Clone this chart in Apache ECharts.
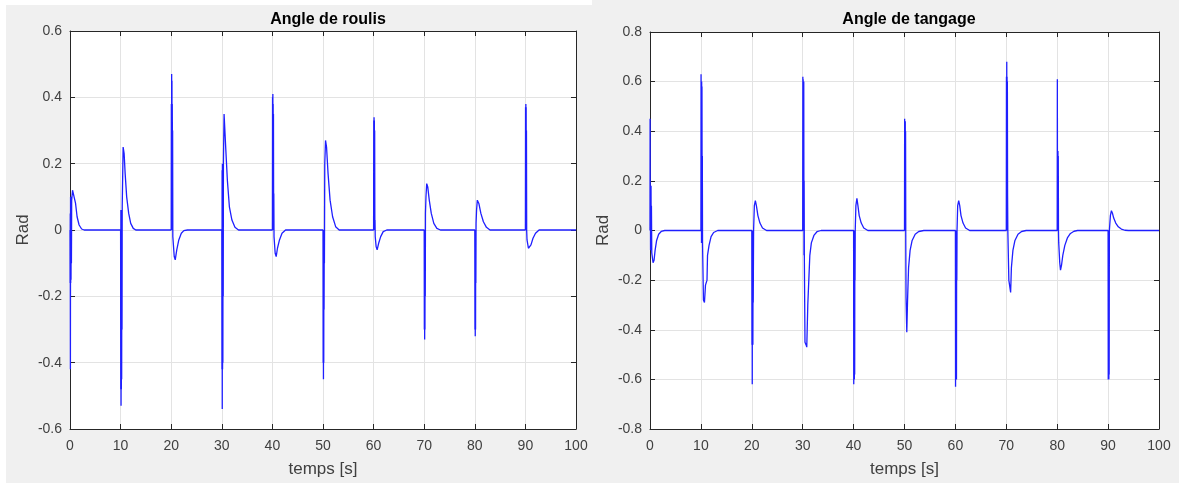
<!DOCTYPE html>
<html>
<head>
<meta charset="utf-8">
<script src="https://cdn.jsdelivr.net/npm/echarts@6/dist/echarts.min.js"></script>
<style>
html,body{margin:0;padding:0;background:#f0f0f0;}
#c{width:1179px;height:483px;}
</style>
</head>
<body>
<div id="c"></div>
<script>
// ---- Data ----
const titles = ["Angle de roulis", "Angle de tangage"];
const xName = "temps [s]";
const yName = "Rad";
const xTicks = [0, 10, 20, 30, 40, 50, 60, 70, 80, 90, 100];
const rollYTicks = [-0.6, -0.4, -0.2, 0, 0.2, 0.4, 0.6];
const pitchYTicks = [-0.8, -0.6, -0.4, -0.2, 0, 0.2, 0.4, 0.6, 0.8];

// roll angle [t, rad]
const rollData = [
[0,0],[0.02,-0.16],[0.05,0.05],[0.08,-0.42],[0.11,0.1],[0.14,-0.16],[0.17,0.1],[0.2,-0.15],[0.24,0.09],[0.28,-0.1],[0.33,0.09],[0.5,0.12],[0.8,0.12],[1.1,0.08],[1.4,0.04],[1.8,0.015],[2.3,0.003],[2.8,0],
[10,0],[10.03,-0.48],[10.06,0.06],[10.09,-0.53],[10.12,0.06],[10.15,-0.48],[10.18,0.06],[10.21,-0.45],[10.25,0.06],[10.28,-0.3],[10.32,0.07],[10.5,0.25],[10.7,0.23],[10.9,0.17],[11.2,0.1],[11.6,0.05],[12,0.02],[12.5,0.005],[13.0,0],
[20,0],[20.03,0.38],[20.06,0.0],[20.09,0.47],[20.12,0.0],[20.15,0.45],[20.18,0.0],[20.21,0.38],[20.25,0.2],[20.28,0.3],[20.32,-0.02],[20.6,-0.08],[20.8,-0.09],[21.1,-0.06],[21.5,-0.03],[22,-0.01],[22.5,-0.002],[23.2,0],
[30,0],[30.03,-0.42],[30.06,0.18],[30.09,-0.54],[30.12,0.2],[30.15,-0.42],[30.18,0.2],[30.21,-0.4],[30.25,0.2],[30.28,-0.2],[30.32,0.2],[30.45,0.35],[30.65,0.35],[30.8,0.24],[31.1,0.15],[31.5,0.07],[32,0.03],[32.6,0.008],[33.3,0],
[40,0],[40.03,0.4],[40.06,0.0],[40.09,0.41],[40.12,0.0],[40.15,0.38],[40.18,0.0],[40.21,0.35],[40.25,0.0],[40.28,0.11],[40.32,-0.02],[40.55,-0.07],[40.75,-0.08],[41,-0.055],[41.4,-0.03],[41.9,-0.01],[42.6,0],
[50,0],[50.03,-0.4],[50.06,0.0],[50.09,-0.45],[50.12,0.0],[50.15,-0.4],[50.18,0.0],[50.21,-0.24],[50.25,0.0],[50.28,-0.1],[50.35,0.2],[50.5,0.27],[50.7,0.25],[51,0.17],[51.4,0.09],[51.9,0.04],[52.5,0.01],[53.2,0],
[60,0],[60.03,0.33],[60.06,0.0],[60.09,0.34],[60.12,0.0],[60.15,0.33],[60.18,0.0],[60.21,0.3],[60.25,0.0],[60.28,0.03],[60.32,-0.02],[60.5,-0.05],[60.7,-0.06],[61,-0.04],[61.4,-0.02],[61.9,-0.005],[62.6,0],
[70,0],[70.03,-0.3],[70.06,0.0],[70.09,-0.33],[70.12,0.0],[70.15,-0.3],[70.18,0.0],[70.21,-0.2],[70.25,0.05],[70.35,0.1],[70.5,0.14],[70.7,0.13],[71,0.09],[71.4,0.05],[71.9,0.02],[72.5,0.005],[73.2,0],
[80,0],[80.03,-0.3],[80.06,0.0],[80.09,-0.32],[80.12,0.0],[80.15,-0.3],[80.18,0.0],[80.21,-0.16],[80.25,0.02],[80.35,0.06],[80.5,0.09],[80.8,0.08],[81.2,0.05],[81.7,0.025],[82.3,0.008],[83,0],
[90,0],[90.03,0.37],[90.06,0.0],[90.09,0.38],[90.12,0.0],[90.15,0.37],[90.18,0.0],[90.21,0.3],[90.25,0.0],[90.32,-0.03],[90.6,-0.055],[90.8,-0.06],[91.1,-0.045],[91.5,-0.025],[92,-0.01],[92.7,0],
[100,0]
];

// pitch angle [t, rad]
const pitchData = [
[0,0],[0.02,0.45],[0.05,0.0],[0.08,0.18],[0.11,-0.08],[0.14,0.18],[0.17,-0.08],[0.2,0.18],[0.24,-0.08],[0.28,0.1],[0.35,-0.09],[0.6,-0.13],[0.8,-0.12],[1.0,-0.08],[1.3,-0.04],[1.7,-0.015],[2.2,-0.004],[2.9,0],
[10,0],[10.03,0.63],[10.06,0.0],[10.09,0.6],[10.12,-0.05],[10.15,0.6],[10.18,-0.05],[10.21,0.58],[10.25,-0.05],[10.28,0.3],[10.32,-0.05],[10.5,-0.28],[10.7,-0.29],[10.9,-0.22],[11.2,-0.2],[11.3,-0.1],[11.6,-0.06],[12,-0.025],[12.5,-0.008],[13.3,0],
[20,0],[20.03,-0.46],[20.06,0.0],[20.09,-0.62],[20.12,0.0],[20.15,-0.46],[20.18,0.0],[20.21,-0.46],[20.25,-0.1],[20.28,-0.29],[20.35,0.0],[20.5,0.1],[20.7,0.12],[20.9,0.1],[21.2,0.06],[21.6,0.03],[22.1,0.01],[22.9,0],
[30,0],[30.03,0.62],[30.06,0.0],[30.09,0.61],[30.12,0.0],[30.15,0.6],[30.18,0.0],[30.21,0.6],[30.25,-0.1],[30.28,0.2],[30.32,-0.1],[30.45,-0.45],[30.65,-0.46],[30.8,-0.47],[31,-0.3],[31.2,-0.2],[31.4,-0.1],[31.7,-0.05],[32.2,-0.02],[32.8,-0.005],[33.6,0],
[40,0],[40.03,-0.62],[40.06,0.0],[40.09,-0.6],[40.12,0.0],[40.15,-0.6],[40.18,0.0],[40.21,-0.58],[40.25,0.0],[40.28,-0.2],[40.32,0.0],[40.45,0.1],[40.65,0.13],[40.85,0.1],[41.1,0.06],[41.5,0.03],[42,0.01],[42.8,0],
[50,0],[50.03,0.45],[50.06,0.0],[50.09,0.44],[50.12,0.0],[50.15,0.44],[50.18,0.0],[50.21,0.4],[50.25,-0.05],[50.3,-0.27],[50.45,-0.41],[50.6,-0.28],[50.8,-0.15],[51.1,-0.08],[51.5,-0.04],[52.1,-0.015],[52.8,-0.004],[53.8,0],
[60,0],[60.03,-0.63],[60.06,0.0],[60.09,-0.6],[60.12,0.0],[60.15,-0.6],[60.18,0.0],[60.21,-0.6],[60.25,0.0],[60.28,-0.2],[60.32,0.0],[60.45,0.1],[60.65,0.12],[60.85,0.1],[61.1,0.06],[61.5,0.03],[62,0.01],[62.8,0],
[70,0],[70.03,0.62],[70.06,0.0],[70.09,0.68],[70.12,0.0],[70.15,0.62],[70.18,0.0],[70.21,0.6],[70.25,0.15],[70.3,0.0],[70.5,-0.2],[70.7,-0.2],[70.85,-0.25],[71.0,-0.15],[71.3,-0.08],[71.7,-0.04],[72.3,-0.015],[73,-0.004],[73.9,0],
[80,0],[80.03,0.61],[80.06,0.0],[80.09,0.32],[80.12,0.0],[80.15,0.32],[80.18,0.0],[80.21,0.3],[80.25,0.0],[80.3,-0.05],[80.5,-0.13],[80.65,-0.16],[80.85,-0.14],[81.1,-0.1],[81.5,-0.06],[82,-0.03],[82.6,-0.012],[83.3,-0.003],[84,0],
[90,0],[90.03,-0.6],[90.06,0.0],[90.09,-0.6],[90.12,-0.1],[90.15,-0.6],[90.18,0.0],[90.21,-0.58],[90.25,0.0],[90.3,0.0],[90.45,0.06],[90.65,0.08],[90.85,0.07],[91.1,0.05],[91.5,0.03],[92,0.015],[92.6,0.006],[93.3,0.001],[94,0],
[100,0]
];

// ---- Chart ----
const FONT = '"Liberation Sans", Arial, sans-serif';
const AX = '#262626';
const LBL = '#404040';
const GRID = '#e3e3e3';

const grids = [
  {left: 70, right: 603, top: 31, bottom: 51},
  {left: 650, right: 20, top: 32, bottom: 50}
];
const yTickSets = [rollYTicks, pitchYTicks];

const fmt = v => String(Math.round(v * 10) / 10);

const xAxes = [], yAxes = [];
grids.forEach((g, i) => {
  xAxes.push({
    gridIndex: i, type: 'value', min: xTicks[0], max: xTicks[xTicks.length - 1],
    interval: xTicks[1] - xTicks[0], position: 'bottom',
    name: xName, nameLocation: 'middle', nameGap: 32,
    nameTextStyle: {fontFamily: FONT, fontSize: 17, color: LBL},
    axisLine: {onZero: false, lineStyle: {color: AX, width: 1}},
    axisTick: {inside: true, length: 5, lineStyle: {color: AX}},
    axisLabel: {fontFamily: FONT, fontSize: 14, color: LBL, margin: 10, formatter: fmt},
    splitLine: {show: true, lineStyle: {color: GRID, width: 1}}
  });
  xAxes.push({
    gridIndex: i, type: 'value', min: xTicks[0], max: xTicks[xTicks.length - 1],
    interval: xTicks[1] - xTicks[0], position: 'top',
    axisLine: {onZero: false, lineStyle: {color: AX, width: 1}},
    axisTick: {inside: true, length: 5, lineStyle: {color: AX}},
    axisLabel: {show: false}, splitLine: {show: false}
  });
  const yt = yTickSets[i];
  yAxes.push({
    gridIndex: i, type: 'value', min: yt[0], max: yt[yt.length - 1],
    interval: +(yt[1] - yt[0]).toFixed(2), position: 'left',
    name: yName, nameLocation: 'middle', nameGap: 38,
    nameTextStyle: {fontFamily: FONT, fontSize: 17, color: LBL},
    axisLine: {onZero: false, lineStyle: {color: AX, width: 1}},
    axisTick: {inside: true, length: 5, lineStyle: {color: AX}},
    axisLabel: {fontFamily: FONT, fontSize: 14, color: LBL, margin: 8, formatter: fmt},
    splitLine: {show: true, lineStyle: {color: GRID, width: 1}}
  });
  yAxes.push({
    gridIndex: i, type: 'value', min: yt[0], max: yt[yt.length - 1],
    interval: +(yt[1] - yt[0]).toFixed(2), position: 'right',
    axisLine: {onZero: false, lineStyle: {color: AX, width: 1}},
    axisTick: {inside: true, length: 5, lineStyle: {color: AX}},
    axisLabel: {show: false}, splitLine: {show: false}
  });
});

const chart = echarts.init(document.getElementById('c'), null, {renderer: 'canvas'});
chart.setOption({
  backgroundColor: '#f0f0f0',
  animation: false,
  graphic: [
    {type: 'rect', shape: {x: 0, y: 0, width: 592, height: 5}, style: {fill: '#ffffff'}, z: -10},
    {type: 'rect', shape: {x: 0, y: 0, width: 6, height: 483}, style: {fill: '#ffffff'}, z: -10}
  ],
  title: [
    {text: titles[0], left: 323, top: 7, textAlign: 'center',
     textStyle: {fontFamily: FONT, fontSize: 16, fontWeight: 'bold', color: '#000'}},
    {text: titles[1], left: 904, top: 7, textAlign: 'center',
     textStyle: {fontFamily: FONT, fontSize: 16, fontWeight: 'bold', color: '#000'}}
  ],
  grid: grids.map(g => Object.assign({show: true, backgroundColor: '#ffffff', borderWidth: 0}, g)),
  xAxis: xAxes,
  yAxis: yAxes,
  series: [
    {type: 'line', xAxisIndex: 0, yAxisIndex: 0, data: rollData, showSymbol: false,
     lineStyle: {color: '#1f1fff', width: 1.3}, clip: true},
    {type: 'line', xAxisIndex: 2, yAxisIndex: 2, data: pitchData, showSymbol: false,
     lineStyle: {color: '#1f1fff', width: 1.3}, clip: true}
  ]
});
</script>
</body>
</html>
